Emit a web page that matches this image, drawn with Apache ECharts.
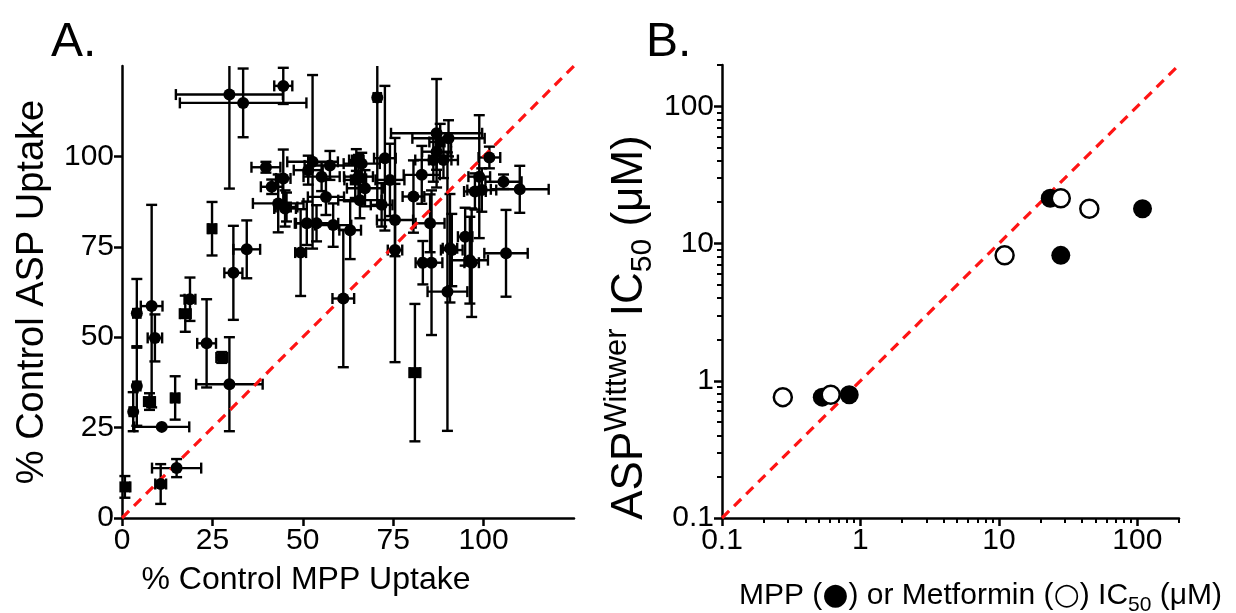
<!DOCTYPE html>
<html><head><meta charset="utf-8">
<script src="https://cdn.jsdelivr.net/npm/echarts@6/dist/echarts.min.js"></script>
<style>html,body{margin:0;padding:0;background:#fff}#c{width:1236px;height:613px}</style>
</head><body><div id="c"></div>
<script>
// Panel A: [x, y, xErr, yErr] (% control)
const circlePts = [
  [10.7, 9.4, 1.5, 5.5], [15.1, 13.8, 6.8, 2.5], [11, 25.2, 7.6, 0], [3.1, 29.4, 1, 5.4],
  [4.1, 36.5, 1, 11], [4.1, 56.6, 1, 9.5], [8.2, 58.6, 3, 28], [9.1, 49.8, 2, 6.5],
  [18.8, 60.5, 1.5, 6], [23.4, 48.3, 2.6, 12.2], [27.6, 44.4, 1.5, 1.5], [29.7, 37, 9.2, 13],
  [30.8, 67.8, 2.5, 13], [34.5, 74.3, 3.7, 8], [29.7, 117.1, 14.8, 26], [33.5, 114.8, 17.5, 9.5],
  [44.6, 119.5, 2.5, 5], [39.8, 97, 4, 1.5], [44.6, 93.9, 2, 8], [41.4, 91.6, 3, 2],
  [43.2, 87, 7, 8], [45.1, 85.6, 3, 5], [51.1, 81.5, 3, 6], [51.5, 96.2, 4, 4],
  [70.6, 116.3, 1, 30], [52.7, 98.5, 7, 24], [55.2, 94.4, 5, 4], [66.3, 98, 5, 3],
  [65.4, 94.4, 4, 6], [67.2, 91.2, 5, 5], [72.7, 99.5, 3, 20], [74.1, 93.5, 4, 10],
  [82.9, 94.9, 5, 8], [87, 106.4, 12.6, 15], [90.3, 105, 10, 5], [87, 101.3, 4, 5],
  [86.1, 99, 5, 6], [88.9, 99, 4, 5], [80.6, 88.9, 3, 10], [85.2, 81.5, 4, 8],
  [75.5, 82.4, 5, 10], [71.8, 86.6, 3, 6], [65.8, 87.9, 6, 5], [63.1, 79.6, 3, 8],
  [58.4, 81, 5, 6], [53.8, 81.5, 6, 5], [49.4, 73.4, 1.5, 12], [75.5, 74.1, 2, 31],
  [90.7, 74.6, 2, 15], [94.9, 77.8, 2, 8], [101.6, 99.7, 3, 3], [98.8, 94.4, 3, 17],
  [105.5, 93, 5, 2], [110, 90.9, 8, 6.5], [97.6, 90.3, 3, 5], [99.5, 90.7, 4, 6],
  [91.2, 74.1, 3, 10], [96.2, 71.3, 5, 12], [106.2, 73.2, 6, 12], [61.2, 60.7, 3, 19],
  [83.2, 70.6, 2, 6], [85.6, 70.6, 3, 20], [90, 62.6, 5.5, 38.5], [96.7, 70.6, 2, 15],
  [56.4, 88.8, 5, 5], [57.5, 97.5, 7, 4]
];
const squarePts = [
  [0.8, 8.6, 1.5, 3], [7.6, 32.2, 1.5, 2.3], [14.7, 33.2, 1, 6], [17.5, 56.5, 1.5, 5],
  [24.9, 80, 1, 7.4], [81, 40.2, 1.5, 19], [45.5, 86, 3, 4], [64.5, 93.5, 3, 5],
  [64.8, 99, 2, 3], [88, 104, 3, 5]
];
const rangeA = [0, 125];
const ticksA = [0, 25, 50, 75, 100];

// Panel B: [x IC50, ASP IC50] (µM)
const mppB = [[0.53, 0.76], [0.83, 0.79], [23.5, 21.4], [28, 8.2], [109, 17.9]];
const metforminB = [[0.275, 0.76], [0.61, 0.79], [11, 8.2], [28, 21.4], [45, 17.9]];
const rangeB = [0.1, 200];
const ticksB = [0.1, 1, 10, 100];
const minorB = [0.2,0.3,0.4,0.5,0.6,0.7,0.8,0.9,2,3,4,5,6,7,8,9,20,30,40,50,60,70,80,90,200];

const FONT = "'Liberation Sans', Arial, sans-serif";
const axisLine = {show: true, lineStyle: {color: '#000', width: 2.5}};

function errRender(params, api) {
  const x = api.value(0), y = api.value(1), xe = api.value(2), ye = api.value(3);
  const lo = rangeA[0], hi = rangeA[1], cap = 5.5;
  const style = {stroke: '#000', lineWidth: 2.4};
  const ch = [];
  if (xe > 0) {
    const a = api.coord([Math.max(lo, x - xe), y]), b = api.coord([Math.min(hi, x + xe), y]);
    ch.push({type: 'line', shape: {x1: a[0], y1: a[1], x2: b[0], y2: b[1]}, style});
    if (x - xe >= lo) ch.push({type: 'line', shape: {x1: a[0], y1: a[1] - cap, x2: a[0], y2: a[1] + cap}, style});
    if (x + xe <= hi) ch.push({type: 'line', shape: {x1: b[0], y1: b[1] - cap, x2: b[0], y2: b[1] + cap}, style});
  }
  if (ye > 0) {
    const a = api.coord([x, Math.max(lo, y - ye)]), b = api.coord([x, Math.min(hi, y + ye)]);
    ch.push({type: 'line', shape: {x1: a[0], y1: a[1], x2: b[0], y2: b[1]}, style});
    if (y - ye >= lo) ch.push({type: 'line', shape: {x1: a[0] - cap, y1: a[1], x2: a[0] + cap, y2: a[1]}, style});
    if (y + ye <= hi) ch.push({type: 'line', shape: {x1: b[0] - cap, y1: b[1], x2: b[0] + cap, y2: b[1]}, style});
  }
  return {type: 'group', children: ch};
}

const chart = echarts.init(document.getElementById('c'));
const labelStyle = {color: '#000', fontSize: 30, fontFamily: FONT, margin: 8};
const black = {color: '#000', opacity: 1};
const GB = {left: 722, top: 65, width: 457, height: 453};
chart.setOption({
  animation: false,
  backgroundColor: '#fff',
  title: [
    {text: 'A.', left: 46, top: 14, textStyle: {fontSize: 48, fontWeight: 'normal', color: '#000', fontFamily: FONT}},
    {text: 'B.', left: 641, top: 14, textStyle: {fontSize: 48, fontWeight: 'normal', color: '#000', fontFamily: FONT}}
  ],
  grid: [
    {left: 122, top: 66, width: 452, height: 452, outerBoundsMode: 'none', containLabel: false},
    Object.assign({outerBoundsMode: 'none', containLabel: false}, GB)
  ],
  xAxis: [
    {type: 'value', gridIndex: 0, position: 'bottom', min: rangeA[0], max: rangeA[1], splitLine: {show: false}, axisLine,
     axisTick: {show: true, length: 8, lineStyle: {width: 2.5, color: '#000'}, customValues: ticksA},
     axisLabel: Object.assign({customValues: ticksA}, labelStyle),
     name: '% Control MPP Uptake', nameLocation: 'middle', nameGap: 46,
     nameTextStyle: {fontSize: 32, color: '#000', fontFamily: FONT, padding: [0, 84, 0, 0]}},
    {type: 'log', logBase: 10, gridIndex: 1, position: 'bottom', min: rangeB[0], max: rangeB[1], splitLine: {show: false}, axisLine,
     axisTick: {show: true, length: 8, lineStyle: {width: 2.5, color: '#000'}, customValues: ticksB},
     axisLabel: Object.assign({customValues: ticksB, formatter: v => String(v)}, labelStyle),
     name: '{m|MPP (}{d|●}{m|) or Metformin (}{d|○}{m|) IC}{s|50}{m| (μM)}', nameLocation: 'middle', nameGap: 58,
     nameTextStyle: {color: '#000', fontFamily: FONT, padding: [0, 0, 0, 60], rich: {
       m: {fontSize: 30, fontFamily: FONT, color: '#000', lineHeight: 40, verticalAlign: 'middle'},
       d: {fontSize: 30, fontFamily: "'DejaVu Sans', sans-serif", color: '#000', lineHeight: 40, verticalAlign: 'middle'},
       s: {fontSize: 21, fontFamily: FONT, color: '#000', lineHeight: 22, verticalAlign: 'bottom'}}}},
    // minor log ticks: a top-type axis moved onto the bottom edge, ticks pointing down
    {type: 'log', logBase: 10, gridIndex: 1, position: 'top', offset: -GB.height, min: rangeB[0], max: rangeB[1],
     splitLine: {show: false}, axisLine: {show: false}, axisLabel: {show: false},
     axisTick: {show: true, inside: true, length: 5, lineStyle: {width: 2, color: '#000'}, customValues: minorB}}
  ],
  yAxis: [
    {type: 'value', gridIndex: 0, position: 'left', min: rangeA[0], max: rangeA[1], splitLine: {show: false}, axisLine,
     axisTick: {show: true, length: 8, lineStyle: {width: 2.5, color: '#000'}, customValues: ticksA},
     axisLabel: Object.assign({customValues: ticksA}, labelStyle),
     name: '% Control ASP Uptake', nameLocation: 'middle', nameGap: 70,
     nameTextStyle: {fontSize: 38, color: '#000', fontFamily: FONT}},
    {type: 'log', logBase: 10, gridIndex: 1, position: 'left', min: rangeB[0], max: rangeB[1], splitLine: {show: false}, axisLine,
     axisTick: {show: true, length: 8, lineStyle: {width: 2.5, color: '#000'}, customValues: ticksB},
     axisLabel: Object.assign({customValues: ticksB, formatter: v => String(v)}, labelStyle),
     name: '{m|ASP}{p|Wittwer}{m| IC}{s|50}{m| (μM)}', nameLocation: 'middle', nameGap: 64,
     nameTextStyle: {color: '#000', fontFamily: FONT, padding: [0, 72, 0, 0], rich: {
       m: {fontSize: 44, fontFamily: FONT, color: '#000', lineHeight: 56, verticalAlign: 'middle'},
       p: {fontSize: 31, fontFamily: FONT, color: '#000', lineHeight: 31, verticalAlign: 'top'},
       s: {fontSize: 30, fontFamily: FONT, color: '#000', lineHeight: 30, verticalAlign: 'bottom'}}}},
    {type: 'log', logBase: 10, gridIndex: 1, position: 'right', offset: -GB.width, min: rangeB[0], max: rangeB[1],
     splitLine: {show: false}, axisLine: {show: false}, axisLabel: {show: false},
     axisTick: {show: true, inside: true, length: 5, lineStyle: {width: 2, color: '#000'}, customValues: minorB}}
  ],
  series: [
    {type: 'custom', xAxisIndex: 0, yAxisIndex: 0, renderItem: errRender, data: circlePts, encode: {x: 0, y: 1}, z: 2},
    {type: 'custom', xAxisIndex: 0, yAxisIndex: 0, renderItem: errRender, data: squarePts, encode: {x: 0, y: 1}, z: 2},
    {type: 'line', xAxisIndex: 0, yAxisIndex: 0, data: [[rangeA[0], rangeA[0]], [rangeA[1], rangeA[1]]], showSymbol: false,
     lineStyle: {color: '#ff1414', width: 3.2, type: [10, 7]}, z: 3},
    {type: 'scatter', xAxisIndex: 0, yAxisIndex: 0, data: circlePts, symbol: 'circle', symbolSize: 12,
     itemStyle: black, z: 4},
    {type: 'scatter', xAxisIndex: 0, yAxisIndex: 0, data: squarePts, symbol: 'rect', symbolSize: 11,
     itemStyle: black, z: 4},
    {type: 'line', xAxisIndex: 1, yAxisIndex: 1, data: [[rangeB[0], rangeB[0]], [rangeB[1], rangeB[1]]], showSymbol: false,
     lineStyle: {color: '#ff1414', width: 3.2, type: [10, 7]}, z: 3},
    {type: 'scatter', xAxisIndex: 1, yAxisIndex: 1, data: mppB, symbol: 'circle', symbolSize: 19,
     itemStyle: black, z: 4},
    {type: 'scatter', xAxisIndex: 1, yAxisIndex: 1, data: metforminB, symbol: 'circle', symbolSize: 18,
     itemStyle: {color: '#fff', opacity: 1, borderColor: '#000', borderWidth: 2.5}, z: 5}
  ]
});
</script></body></html>
